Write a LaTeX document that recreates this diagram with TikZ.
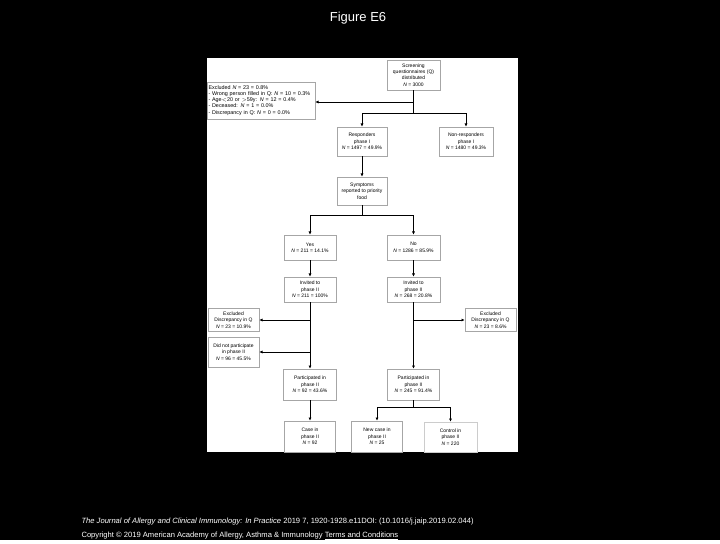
\documentclass[tikz,border=0pt]{standalone}
\usepackage{fontspec}
\setmainfont{Liberation Sans}
\usetikzlibrary{arrows.meta, calc, positioning}

\begin{document}
\begin{tikzpicture}[
    x=1pt, y=-1pt,
    >={Latex[length=3.2pt,width=3.2pt]}, % Set default arrow tip style
    box/.style={draw=gray!70, fill=white, line width=0.6pt, align=center, inner sep=1pt,
        font=\fontsize{5}{6.4}\selectfont}, % Style for the flow boxes
    flow/.style={black, line width=0.9pt}, % Style for the connectors
    caption/.style={text=white, anchor=west, font=\fontsize{7.6}{9}\selectfont} % Style for footer lines
]

    % Page and panel
    \fill[black] (0,0) rectangle (720,540);
    \fill[white] (207,58) rectangle (518,452);
    \node[text=white, font=\fontsize{13}{15}\selectfont] (title) at (358,18) {Figure E6};

    % Phase I
    \node[box, minimum width=53pt, minimum height=30pt] (screen) at (413.5,75)
        {Screening\\questionnaires (Q)\\distributed\\\textit{N} = 3000};
    \node[box, minimum width=108pt, minimum height=37pt, text width=105pt, align=left,
        font=\fontsize{5.4}{6.1}\selectfont] (excl) at (261,100.5)
        {Excluded \textit{N} = 23 = 0.8\%\\- Wrong person filled in Q: \textit{N} = 10 = 0.3\%\\- Age${<}$20 or ${>}$59y: \textit{N} = 12 = 0.4\%\\- Deceased: \textit{N} = 1 = 0.0\%\\- Discrepancy in Q: \textit{N} = 0 = 0.0\%};
    \node[box, minimum width=50pt, minimum height=29pt] (resp) at (362,141.5)
        {Responders\\phase I\\\textit{N} = 1497 = 49.9\%};
    \node[box, minimum width=54pt, minimum height=29pt] (nonresp) at (466,141.5)
        {Non-responders\\phase I\\\textit{N} = 1480 = 49.3\%};
    \node[box, minimum width=50pt, minimum height=28pt] (symp) at (362,191)
        {Symptoms\\reported to priority\\food};

    % Phase II invitation
    \node[box, minimum width=52pt, minimum height=25pt] (yes) at (310,247.5)
        {Yes\\\textit{N} = 211 = 14.1\%};
    \node[box, minimum width=53pt, minimum height=25pt] (no) at (413.5,247.5)
        {No\\\textit{N} = 1286 = 85.9\%};
    \node[box, minimum width=52pt, minimum height=25pt] (invL) at (310,289.5)
        {Invited to\\phase II\\\textit{N} = 211 = 100\%};
    \node[box, minimum width=53pt, minimum height=25pt] (invR) at (413.5,289.5)
        {Invited to\\phase II\\\textit{N} = 268 = 20.8\%};
    \node[box, minimum width=51pt, minimum height=23pt] (exclL) at (233.5,320)
        {Excluded\\Discrepancy in Q\\\textit{N} = 23 = 10.9\%};
    \node[box, minimum width=51pt, minimum height=23pt] (exclR) at (490.5,320)
        {Excluded\\Discrepancy in Q\\\textit{N} = 23 = 8.6\%};
    \node[box, minimum width=51pt, minimum height=30pt] (notp) at (233.5,352)
        {Did not participate\\in phase II\\\textit{N} = 96 = 45.5\%};
    \node[box, minimum width=53pt, minimum height=31pt] (partL) at (310,384.5)
        {Participated in\\phase II\\\textit{N} = 92 = 43.6\%};
    \node[box, minimum width=52pt, minimum height=31pt] (partR) at (413.5,384.5)
        {Participated in\\phase II\\\textit{N} = 245 = 91.4\%};

    % Outcome
    \node[box, minimum width=51pt, minimum height=31pt] (case) at (310,436.5)
        {Case in\\phase II\\\textit{N} = 92};
    \node[box, minimum width=51pt, minimum height=31pt] (newc) at (377,436.5)
        {New case in\\phase II\\\textit{N} = 25};
    \node[box, draw=gray!40, minimum width=53pt, minimum height=30pt] (ctrl) at (450.5,437)
        {Control in\\phase II\\\textit{N} = 220};

    % Connectors
    \coordinate (j0) at (413.5,102);
    \coordinate (j1) at (413.5,113);
    \coordinate (j2) at (362,215);
    \coordinate (j3) at (413.5,407);

    \draw[flow] (screen.south) -- (j1);
    \draw[flow, ->] (j0) -- (excl.east |- j0);
    \draw[flow, ->] (j1) -| (resp.north);
    \draw[flow, ->] (j1) -| (nonresp.north);
    \draw[flow, ->] (resp) -- (symp);
    \draw[flow] (symp.south) -- (j2);
    \draw[flow, ->] (j2) -| (yes.north);
    \draw[flow, ->] (j2) -| (no.north);
    \draw[flow, ->] (yes) -- (invL);
    \draw[flow, ->] (no) -- (invR);
    \draw[flow, ->] (invL) -- (partL);
    \draw[flow, ->] (exclL.east -| invL.south) -- (exclL.east);
    \draw[flow, ->] (notp.east -| invL.south) -- (notp.east);
    \draw[flow, ->] (invR) -- (partR);
    \draw[flow, ->] (exclR.west -| invR.south) -- (exclR.west);
    \draw[flow, ->] (partL) -- (case);
    \draw[flow] (partR.south) -- (j3);
    \draw[flow, ->] (j3) -| (newc.north);
    \draw[flow, ->] (j3) -| (ctrl.north);

    % Footer
    \node[caption] (cite) at (78,522)
        {\textit{The Journal of Allergy and Clinical Immunology: In Practice} 2019 7, 1920-1928.e11DOI: (10.1016/j.jaip.2019.02.044)};
    \node[caption] (copy) at (78,536)
        {Copyright © 2019 American Academy of Allergy, Asthma \& Immunology \underline{Terms and Conditions}};

\end{tikzpicture}
\end{document}
